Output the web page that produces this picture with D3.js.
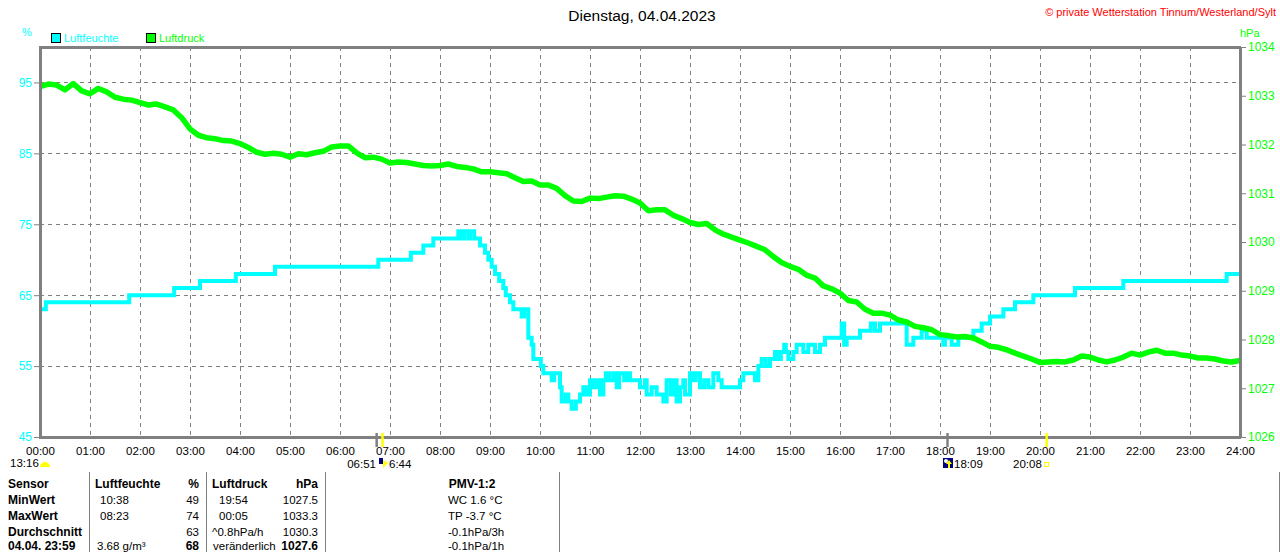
<!DOCTYPE html>
<html><head><meta charset="utf-8">
<script src="https://cdn.jsdelivr.net/npm/d3@7"></script>
<style>
html,body{margin:0;padding:0;background:#fff;}
svg{display:block;font-family:"Liberation Sans",Arial,sans-serif;}
</style></head>
<body><svg id="c" width="1280" height="552"></svg>
<script>
// ---- data ----
const title = "Dienstag, 04.04.2023";
const credit = "\u00A9 private Wetterstation Tinnum/Westerland/Sylt";
const seriesNames = ["Luftfeuchte", "Luftdruck"];
const hourLabels = d3.range(0, 25).map(h => String(h).padStart(2, "0") + ":00");
const humTicks = [45, 55, 65, 75, 85, 95];
const presTicks = [1026, 1027, 1028, 1029, 1030, 1031, 1032, 1033, 1034];

// humidity: change points (minutes since midnight, %)
const humMinutes = [0,7,107,161,192,235,282,406,445,460,472,502,506,509,514,516,521,528,534,538,542,546,551,556,559,564,568,578,581,586,590,592,601,604,614,617,624,626,631,634,638,643,648,652,656,660,664,668,672,676,679,683,688,692,695,701,704,708,720,726,728,734,740,748,752,757,761,764,768,772,774,780,784,787,792,797,802,808,814,818,840,844,858,862,866,871,876,882,886,889,893,895,898,904,908,916,922,930,936,942,962,965,968,984,997,1002,1008,1040,1048,1058,1064,1084,1086,1094,1102,1120,1130,1140,1156,1170,1192,1242,1300,1424,1440];
const humValues  = [63,64,65,66,67,68,69,70,71,72,73,74,73,74,73,74,73,72,71,70,69,68,67,66,65,64,63,62,63,59,58,56,55,54,53,54,52,50,51,50,49,50,51,52,51,53,52,53,51,53,54,53,54,52,54,53,54,53,52,53,51,52,51,50,53,51,53,50,52,53,51,54,53,54,52,53,52,54,53,52,53,54,53,55,56,55,56,57,56,57,58,57,56,57,58,57,58,57,58,59,61,58,59,60,61,60,61,58,59,60,59,58,59,58,59,60,61,62,63,64,65,66,67,68,68];

// air pressure: every 10 minutes from 00:00 to 24:00 (hPa)
const presValues = [
1033.19,1033.24,1033.22,1033.12,1033.25,1033.10,1033.04,1033.15,1033.08,1032.97,
1032.93,1032.91,1032.86,1032.81,1032.83,1032.77,1032.71,1032.55,1032.32,1032.19,
1032.14,1032.12,1032.08,1032.07,1032.02,1031.94,1031.84,1031.80,1031.82,1031.80,
1031.74,1031.81,1031.79,1031.83,1031.86,1031.95,1031.97,1031.97,1031.83,1031.73,
1031.74,1031.70,1031.62,1031.64,1031.63,1031.60,1031.57,1031.56,1031.57,1031.60,
1031.55,1031.53,1031.50,1031.44,1031.44,1031.42,1031.40,1031.32,1031.24,1031.25,
1031.17,1031.17,1031.10,1030.95,1030.84,1030.83,1030.90,1030.89,1030.92,1030.95,
1030.94,1030.88,1030.80,1030.64,1030.66,1030.66,1030.55,1030.48,1030.40,1030.36,
1030.38,1030.25,1030.16,1030.10,1030.04,1029.98,1029.91,1029.84,1029.70,1029.58,
1029.50,1029.44,1029.32,1029.26,1029.10,1029.04,1028.95,1028.80,1028.77,1028.62,
1028.54,1028.54,1028.50,1028.40,1028.36,1028.27,1028.24,1028.20,1028.10,1028.08,
1028.05,1028.06,1028.03,1027.95,1027.86,1027.84,1027.79,1027.72,1027.66,1027.60,
1027.53,1027.54,1027.55,1027.54,1027.58,1027.66,1027.64,1027.58,1027.54,1027.58,
1027.64,1027.72,1027.68,1027.74,1027.78,1027.72,1027.72,1027.68,1027.66,1027.62,
1027.62,1027.60,1027.56,1027.54,1027.57];
const presStepMinutes = 10;

// sun / moon events (minutes)
const eventMarks = [
  {t: 404, kind: "gray"},   // 06:44
  {t: 411, kind: "yellow"}, // 06:51
  {t: 1089, kind: "gray"},  // 18:09
  {t: 1208, kind: "yellow"} // 20:08
];

// table
const tableHeader = ["Sensor", "Luftfeuchte", "%", "Luftdruck", "hPa", "PMV-1:2"];
const tableRowLabels = ["MinWert", "MaxWert", "Durchschnitt", "04.04. 23:59"];
const humTimesCol = ["10:38", "08:23", "", "3.68 g/m\u00B3"];
const humValCol = ["49", "74", "63", "68"];
const presTimesCol = ["19:54", "00:05", "^0.8hPa/h", "ver\u00E4nderlich"];
const presValCol = ["1027.5", "1033.3", "1030.3", "1027.6"];
const pmvCol = ["WC 1.6 \u00B0C", "TP -3.7 \u00B0C", "-0.1hPa/3h", "-0.1hPa/1h"];

// ---- drawing ----
const svg = d3.select("#c");
const L = 40, R = 1240, T = 47, B = 437;
const cyan = "#00ffff", green = "#00ff00", gray = "#808080";

const x = d3.scaleLinear().domain([0, 1440]).range([L, R]);
const yH = d3.scaleLinear().domain([45, 100]).range([B, T]);
const yP = d3.scaleLinear().domain([1026, 1034]).range([B, T]);

svg.append("rect").attr("width", 1280).attr("height", 552).attr("fill", "#fff");

// grid
const grid = svg.append("g").attr("stroke", gray).attr("stroke-width", 1)
  .attr("stroke-dasharray", "4,4").attr("shape-rendering", "crispEdges");
grid.selectAll("line.v").data(d3.range(60, 1440, 60)).join("line")
  .attr("x1", d => Math.round(x(d)) + 0.5).attr("x2", d => Math.round(x(d)) + 0.5)
  .attr("y1", T).attr("y2", B);
grid.selectAll("line.h").data(humTicks.filter(d => d > 45)).join("line")
  .attr("x1", L).attr("x2", R)
  .attr("y1", d => Math.round(yH(d)) + 0.5).attr("y2", d => Math.round(yH(d)) + 0.5);

// series
const humData = humMinutes.map((t, i) => [t, humValues[i]]);
const presData = presValues.map((v, i) => [i * presStepMinutes, v]);

svg.append("path").datum(humData)
  .attr("fill", "none").attr("stroke", cyan).attr("stroke-width", 4)
  .attr("stroke-linejoin", "miter")
  .attr("d", d3.line().x(d => x(d[0])).y(d => yH(d[1])).curve(d3.curveStepAfter));

svg.append("path").datum(presData)
  .attr("fill", "none").attr("stroke", green).attr("stroke-width", 5.5)
  .attr("stroke-linejoin", "round")
  .attr("d", d3.line().x(d => x(d[0])).y(d => yP(d[1])));

// frame
const fr = svg.append("g").attr("stroke", gray).attr("shape-rendering", "crispEdges");
fr.append("line").attr("x1", L - 1).attr("x2", R + 1).attr("y1", T).attr("y2", T).attr("stroke-width", 3);
fr.append("line").attr("x1", L - 1).attr("x2", R + 1).attr("y1", B).attr("y2", B).attr("stroke-width", 3);
fr.append("line").attr("x1", L).attr("x2", L).attr("y1", T).attr("y2", B).attr("stroke-width", 3);
fr.append("line").attr("x1", R).attr("x2", R).attr("y1", T).attr("y2", B + 1).attr("stroke-width", 3);

// axes
const axL = svg.append("g").attr("transform", `translate(${L - 1},0)`)
  .call(d3.axisLeft(yH).tickValues(humTicks).tickSize(5).tickPadding(2).tickFormat(d3.format("d")));
axL.select(".domain").remove();
axL.selectAll("line").attr("stroke", gray);
axL.selectAll("text").attr("fill", cyan).attr("font-size", 12).attr("font-family", "Liberation Sans, Arial, sans-serif");

const axR = svg.append("g").attr("transform", `translate(${R + 1},0)`)
  .call(d3.axisRight(yP).tickValues(presTicks).tickSize(5).tickPadding(2).tickFormat(d3.format("d")));
axR.select(".domain").remove();
axR.selectAll("line").attr("stroke", gray);
axR.selectAll("text").attr("fill", green).attr("font-size", 12).attr("font-family", "Liberation Sans, Arial, sans-serif");

const axB = svg.append("g").attr("transform", `translate(0,${B})`)
  .call(d3.axisBottom(x).tickValues(d3.range(0, 1441, 60)).tickSize(0).tickPadding(10)
    .tickFormat((d, i) => hourLabels[i]));
axB.select(".domain").remove();
axB.selectAll("text").attr("fill", "#000").attr("font-size", 11.5).attr("font-family", "Liberation Sans, Arial, sans-serif");

// event marks on axis
svg.selectAll("line.ev").data(eventMarks).join("line")
  .attr("x1", d => x(d.t)).attr("x2", d => x(d.t))
  .attr("y1", 433).attr("y2", 447)
  .attr("stroke", d => d.kind === "gray" ? gray : "#ffff00").attr("stroke-width", 2.5);

// title & labels
svg.append("text").attr("x", 642).attr("y", 21).attr("text-anchor", "middle")
  .attr("font-size", 15.5).attr("fill", "#000").text(title);
svg.append("text").attr("x", 1276).attr("y", 16).attr("text-anchor", "end")
  .attr("font-size", 11).attr("fill", "#ff0000").text(credit);
svg.append("text").attr("x", 22).attr("y", 36).attr("font-size", 11).attr("fill", cyan).text("%");
svg.append("text").attr("x", 1240).attr("y", 37).attr("font-size", 11).attr("fill", green).text("hPa");

// legend
const legX = [51, 146];
const legC = [cyan, green];
seriesNames.forEach((n, i) => {
  svg.append("rect").attr("x", legX[i] + 0.5).attr("y", 33.5).attr("width", 9).attr("height", 9)
    .attr("fill", legC[i]).attr("stroke", "#000").attr("stroke-width", 1);
  svg.append("text").attr("x", legX[i] + 13).attr("y", 42).attr("font-size", 11)
    .attr("fill", legC[i]).text(n);
});

// sun / moon labels
function txt(xp, yp, s, anchor) {
  return svg.append("text").attr("x", xp).attr("y", yp).attr("text-anchor", anchor || "start")
    .attr("font-size", 11.5).attr("fill", "#000").text(s);
}
txt(10, 467, "13:16");
svg.append("path").attr("d", "M40,467 A5,5 0 0 1 50,467 Z").attr("fill", "#ffff00");
txt(376, 468, "06:51", "end");
svg.append("rect").attr("x", 379).attr("y", 458).attr("width", 4).attr("height", 6).attr("fill", "#000080");
svg.append("path").attr("d", "M383,460 L388,463 L383,468 Z").attr("fill", "#ffff00");
txt(389, 468, "6:44");
svg.append("rect").attr("x", 943).attr("y", 458).attr("width", 10).attr("height", 10).attr("fill", "#000080");
svg.append("circle").attr("cx", 946).attr("cy", 461).attr("r", 2).attr("fill", "#fff");
svg.append("path").attr("d", "M949,460 L952,464 L950,464 L950,468 L948,468 L948,464 L946,464 Z").attr("fill", "#ffff00");
txt(954, 468, "18:09");
txt(1013, 468, "20:08");
svg.append("rect").attr("x", 1044.5).attr("y", 462.5).attr("width", 4).attr("height", 4)
  .attr("fill", "none").attr("stroke", "#ffff00").attr("stroke-width", 1);

// table
const sep = svg.append("g").attr("stroke", gray).attr("stroke-width", 1).attr("shape-rendering", "crispEdges");
[89, 206, 325, 559, 1279].forEach(sx => {
  sep.append("line").attr("x1", sx + 0.5).attr("x2", sx + 0.5).attr("y1", 472).attr("y2", 552);
});
const rowY = [488, 504, 520, 536, 550];
function cell(xp, yp, s, bold, anchor) {
  svg.append("text").attr("x", xp).attr("y", yp)
    .attr("text-anchor", anchor || "start")
    .attr("font-size", bold ? 12 : 11.5)
    .attr("font-weight", bold ? "bold" : "normal")
    .attr("fill", "#000").text(s);
}
cell(8, rowY[0], tableHeader[0], true);
cell(95, rowY[0], tableHeader[1], true);
cell(199, rowY[0], tableHeader[2], true, "end");
cell(212, rowY[0], tableHeader[3], true);
cell(318, rowY[0], tableHeader[4], true, "end");
cell(472, rowY[0], tableHeader[5], true, "middle");
tableRowLabels.forEach((lab, i) => {
  const yy = rowY[i + 1];
  const last = i === 3;
  cell(8, yy, lab, true);
  cell(last ? 97 : 100, yy, humTimesCol[i], false);
  cell(199, yy, humValCol[i], last, "end");
  cell(last ? 213 : (i === 2 ? 212 : 219), yy, presTimesCol[i], false);
  cell(318, yy, presValCol[i], last, "end");
  cell(448, yy, pmvCol[i], false);
});
</script></body></html>
